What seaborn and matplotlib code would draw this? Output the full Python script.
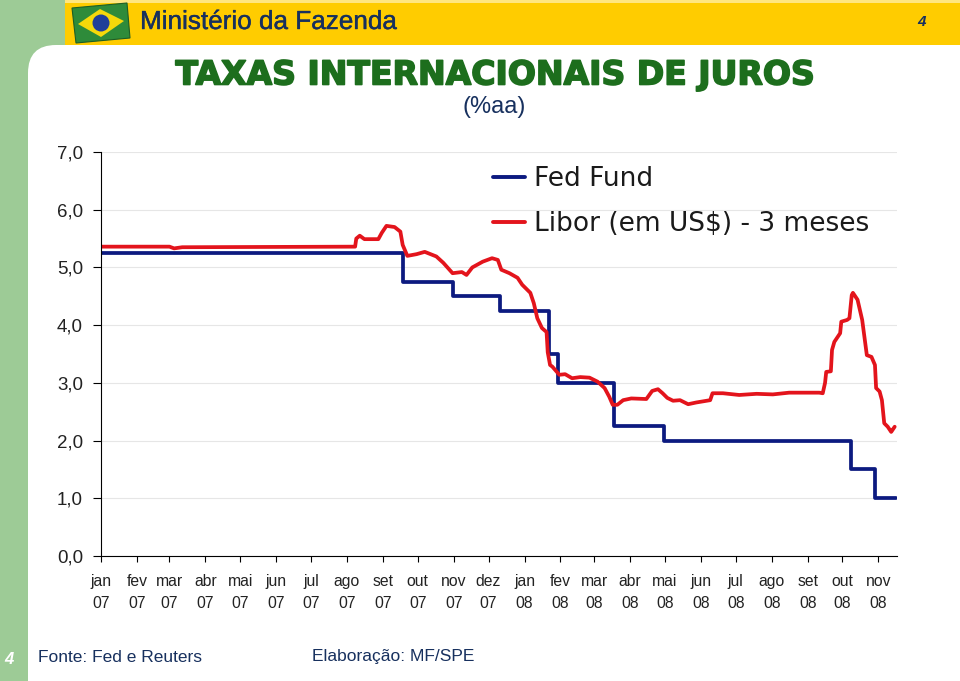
import matplotlib
matplotlib.use("Agg")
import pandas as pd
import numpy as np
import matplotlib.pyplot as plt
import matplotlib.patheffects as pe
import seaborn as sns
from matplotlib.patches import Rectangle, FancyBboxPatch, Polygon, Circle

# ---------------------------
# Data
# ---------------------------
fed_dates = ["2007-01-01", "2007-09-18", "2007-10-31", "2007-12-11", "2008-01-22",
             "2008-01-30", "2008-03-18", "2008-04-30", "2008-10-08", "2008-10-29",
             "2008-11-16"]
fed_rates = [5.25, 4.75, 4.50, 4.25, 3.50, 3.00, 2.25, 2.00, 1.50, 1.00, 1.00]

libor_dates = ["2007-01-02", "2007-03-01", "2007-03-05", "2007-03-12", "2007-08-08",
               "2007-08-09", "2007-08-12", "2007-08-16", "2007-08-28", "2007-08-31",
               "2007-09-04", "2007-09-11", "2007-09-16", "2007-09-18", "2007-09-22",
               "2007-09-30", "2007-10-07", "2007-10-17", "2007-10-23", "2007-10-31",
               "2007-11-08", "2007-11-12", "2007-11-17", "2007-11-26", "2007-12-04",
               "2007-12-09", "2007-12-12", "2007-12-19", "2007-12-26", "2007-12-30",
               "2008-01-06", "2008-01-09", "2008-01-12", "2008-01-16", "2008-01-20",
               "2008-01-21", "2008-01-23", "2008-01-25", "2008-01-31", "2008-02-05",
               "2008-02-11", "2008-02-18", "2008-02-26", "2008-03-04", "2008-03-10",
               "2008-03-14", "2008-03-17", "2008-03-21", "2008-03-26", "2008-04-02",
               "2008-04-15", "2008-04-20", "2008-04-25", "2008-04-29", "2008-05-03",
               "2008-05-08", "2008-05-14", "2008-05-21", "2008-05-28", "2008-06-06",
               "2008-06-09", "2008-06-11", "2008-06-20", "2008-07-04", "2008-07-19",
               "2008-08-02", "2008-08-16", "2008-08-31", "2008-09-11", "2008-09-14",
               "2008-09-16", "2008-09-17", "2008-09-21", "2008-09-22", "2008-09-24",
               "2008-09-29", "2008-09-30", "2008-10-05", "2008-10-07", "2008-10-09",
               "2008-10-10", "2008-10-14", "2008-10-18", "2008-10-22", "2008-10-26",
               "2008-10-29", "2008-10-30", "2008-11-02", "2008-11-04", "2008-11-06",
               "2008-11-09", "2008-11-12", "2008-11-13", "2008-11-15"]
libor_rates = [5.36, 5.36, 5.33, 5.35, 5.36,
               5.50, 5.55, 5.49, 5.49, 5.60,
               5.72, 5.70, 5.62, 5.39, 5.20,
               5.23, 5.27, 5.19, 5.08, 4.90,
               4.92, 4.87, 5.00, 5.10, 5.16,
               5.13, 4.96, 4.90, 4.82, 4.70,
               4.56, 4.38, 4.12, 3.95, 3.88,
               3.53, 3.31, 3.28, 3.14, 3.15,
               3.08, 3.10, 3.09, 3.02, 2.91,
               2.76, 2.62, 2.62, 2.70, 2.73,
               2.72, 2.86, 2.89, 2.82, 2.74,
               2.69, 2.70, 2.63, 2.66, 2.69,
               2.70, 2.82, 2.82, 2.79, 2.81,
               2.80, 2.83, 2.83, 2.83, 2.82,
               3.00, 3.19, 3.20, 3.57, 3.71,
               3.86, 4.06, 4.09, 4.12, 4.52,
               4.56, 4.44, 4.09, 3.48, 3.45,
               3.31, 2.91, 2.85, 2.70, 2.30,
               2.24, 2.15, 2.18, 2.24]

month_names = ["jan", "fev", "mar", "abr", "mai", "jun", "jul", "ago", "set", "out", "nov", "dez"]
tick_dates = pd.date_range("2007-01-01", "2008-11-01", freq="MS")
tick_labels = [f"{month_names[d.month - 1]}\n{d.strftime('%y')}" for d in tick_dates]
y_ticks = [0, 1, 2, 3, 4, 5, 6, 7]
y_labels = ["0,0", "1,0", "2,0", "3,0", "4,0", "5,0", "6,0", "7,0"]

fed = pd.DataFrame({"data": pd.to_datetime(fed_dates), "taxa": fed_rates})
libor = pd.DataFrame({"data": pd.to_datetime(libor_dates), "taxa": libor_rates})

# ---------------------------
# Style
# ---------------------------
sns.set_style("white")
plt.rcParams["font.family"] = ["Liberation Sans", "DejaVu Sans"]

NAVY = "#0c1a80"
RED = "#e3141c"
GREEN = "#9dcb96"
GOLD = "#ffcc00"
TEXT_BLUE = "#17305e"
TITLE_GREEN = "#1d6e1d"

W, H = 960, 681
fig = plt.figure(figsize=(W / 100, H / 100), dpi=100)
fig.patch.set_facecolor(GREEN)


def px(x, y):
    # pixel coords (top-left origin) -> inches
    return x / 100, (H - y) / 100


T = fig.dpi_scale_trans

# page background: green frame, rounded white sheet, gold header
fig.add_artist(FancyBboxPatch(px(28, 720), (W + 60) / 100, 6.75,
                              boxstyle="round,pad=0,rounding_size=0.28",
                              transform=T, facecolor="white", edgecolor="none", zorder=-5))
fig.add_artist(Rectangle(px(65, 45), (W - 65) / 100, 0.45, transform=T,
                         facecolor=GOLD, edgecolor="none", zorder=-4))
fig.add_artist(Rectangle(px(65, 3), (W - 65) / 100, 0.03, transform=T,
                         facecolor="#ffe680", edgecolor="none", zorder=-3))

# little Brazilian flag
fig.add_artist(Polygon([px(72, 8), px(127, 3), px(130, 38), px(76, 43)], closed=True,
                       transform=T, facecolor="#2e8b3a", edgecolor="#1d5e25", lw=0.8, zorder=-2))
fig.add_artist(Polygon([px(78, 24), px(100, 9), px(124, 21), px(101, 37)], closed=True,
                       transform=T, facecolor="#f5d90a", edgecolor="none", zorder=-1))
fig.add_artist(Circle(px(101, 23), 0.085, transform=T, facecolor="#1f3f99",
                      edgecolor="none", zorder=0))

fig.text(*px(140, 22), "Ministério da Fazenda", transform=T, fontsize=18.8,
         color=TEXT_BLUE, ha="left", va="center",
         path_effects=[pe.withStroke(linewidth=0.3, foreground=TEXT_BLUE)])
fig.text(*px(921, 22), "4", transform=T, fontsize=11, color=TEXT_BLUE,
         fontweight="bold", fontstyle="italic", ha="center", va="center")

fig.text(*px(494, 75), "TAXAS INTERNACIONAIS DE JUROS", transform=T, fontsize=23.8,
         color=TITLE_GREEN, fontweight="bold", family=["DejaVu Sans"], ha="center",
         va="center", path_effects=[pe.withStroke(linewidth=1.2, foreground=TITLE_GREEN)])
fig.text(*px(494, 107), "(%aa)", transform=T, fontsize=17, color=TEXT_BLUE,
         ha="center", va="center")

fig.text(*px(38, 657), "Fonte: Fed e Reuters", transform=T, fontsize=12.5,
         color=TEXT_BLUE, ha="left", va="center")
fig.text(*px(312, 657), "Elaboração: MF/SPE", transform=T, fontsize=12.5,
         color=TEXT_BLUE, ha="left", va="center")
fig.text(*px(9, 660), "4", transform=T, fontsize=12, color="white",
         fontweight="bold", fontstyle="italic", ha="center", va="center")

# ---------------------------
# Chart
# ---------------------------
ax_left, ax_right, ax_top, ax_bottom = 101, 897, 152, 556
ax = fig.add_axes([ax_left / W, 1 - ax_bottom / H, (ax_right - ax_left) / W,
                   (ax_bottom - ax_top) / H])
ax.set_facecolor("none")

sns.lineplot(data=fed, x="data", y="taxa", drawstyle="steps-post", color=NAVY,
             linewidth=2.7, label="Fed Fund", ax=ax)
sns.lineplot(data=libor, x="data", y="taxa", color=RED, linewidth=2.7,
             label="Libor (em US$) - 3 meses", ax=ax)

ax.set_xlim(pd.Timestamp("2007-01-01"), pd.Timestamp("2008-11-17"))
ax.set_ylim(0, 7)
ax.set_yticks(y_ticks)
ax.set_yticklabels(y_labels)
ax.set_xticks(tick_dates)
ax.set_xticklabels(tick_labels, linespacing=1.55)
ax.set_xlabel("")
ax.set_ylabel("")

ax.grid(axis="y", color="#e6e6e6", linewidth=0.8)
ax.grid(axis="x", visible=False)
for side in ["top", "right"]:
    ax.spines[side].set_visible(False)
for side in ["left", "bottom"]:
    ax.spines[side].set_color("black")
    ax.spines[side].set_linewidth(0.8)

ax.tick_params(axis="y", length=6, width=0.8, pad=7, labelsize=13.5, colors="black",
               labelcolor="#222222", left=True)
ax.tick_params(axis="x", length=4, width=0.8, pad=9, labelsize=11.3, colors="black",
               labelcolor="#222222", bottom=True)

leg = ax.legend(loc="upper left", bbox_to_anchor=(0.493, 0.965), frameon=False,
                prop={"family": "DejaVu Sans", "size": 19}, handlelength=1.2,
                handletextpad=0.35, labelspacing=0.72, borderpad=0, borderaxespad=0)
for t in leg.get_texts():
    t.set_color("#1a1a1a")
for h in leg.get_lines():
    h.set_linewidth(2.8)

fig.savefig("out.png", dpi=100, facecolor=fig.get_facecolor())
